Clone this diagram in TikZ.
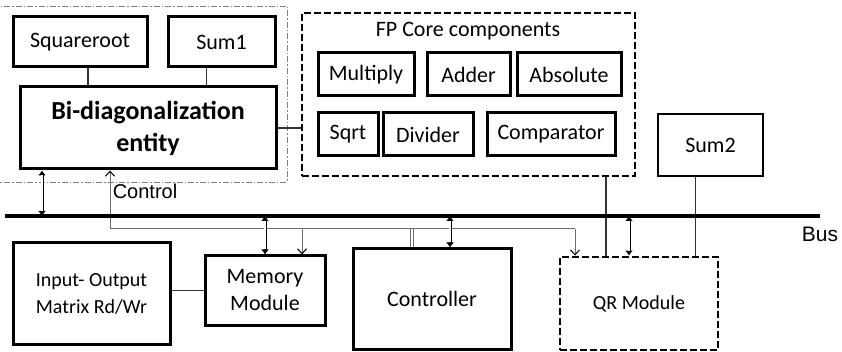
\documentclass[tikz,border=0pt]{standalone}
\usepackage{fontspec}
\setmainfont{Carlito}
\newfontfamily\arialfont{Liberation Sans}
\usetikzlibrary{arrows.meta}
\begin{document}
\begin{tikzpicture}[x=1pt, y=-1pt,
        blk/.style 2 args={draw, line width=3pt, minimum width=#1, minimum height=#2,
            inner sep=0pt, align=center, font=\fontsize{22}{27}\selectfont},
        dbox/.style={draw, line width=2.8pt, dash pattern=on 7pt off 3pt},
        data/.style={line width=3pt, {Latex[length=5pt,width=8pt]}-{Latex[length=5pt,width=8pt]},
            postaction={draw, white, line width=1.2pt, arrows=-, shorten <=5pt, shorten >=5pt}},
        ctrl/.style={gray!85!black, line width=1pt},
        ctip/.style={-{Straight Barb[length=5pt,width=9pt,color=black]}},
        link/.style={line width=1.2pt, black!80}]
        \useasboundingbox (0,0) rectangle (842,352);
        % Umrandung
        \draw[gray, line width=0.9pt, dash pattern=on 6pt off 2pt on 1.5pt off 2pt]
            (-4,6) rectangle (287,182);
        % Bi-Diagonalisierung
        \node[blk={134pt}{50pt}] (sqroot) at (80,42) {Squareroot};
        \node[blk={107pt}{50pt}] (sumone) at (221.5,42) {Sum1};
        \node[blk={256pt}{82pt}, font=\fontsize{26}{32}\selectfont\bfseries]
            (bidiag) at (148,128) {Bi-diagonalization\\entity};
        \draw[link] ([xshift=8pt]sqroot.south) -- ([xshift=8pt]sqroot.south |- bidiag.north);
        \draw[link] ([xshift=-15pt]sumone.south) -- ([xshift=-15pt]sumone.south |- bidiag.north);
        % FP Kern
        \node[dbox, minimum width=333pt, minimum height=163pt] (fpcore) at (468.5,94.5) {};
        \node[font=\fontsize{22}{27}\selectfont] (fptitle) at (468,31) {FP Core components};
        \node[blk={96pt}{43pt}]  (multiply)   at (366,74.5)  {Multiply};
        \node[blk={83pt}{43pt}]  (adder)      at (468.5,74.5) {Adder};
        \node[blk={104pt}{43pt}] (absolute)   at (569,74.5)  {Absolute};
        \node[blk={60pt}{43pt}]  (sqrt)       at (348,134.5) {Sqrt};
        \node[blk={90pt}{43pt}]  (divider)    at (428,134.5) {Divider};
        \node[blk={128pt}{43pt}] (comparator) at (551,134.5) {Comparator};
        \draw[link] (bidiag.east) -- (bidiag.east -| fpcore.west);
        % untere Module
        \node[blk={157pt}{101pt}, font=\fontsize{20}{27}\selectfont]
            (io) at (91.5,293.5) {Input- Output\\Matrix Rd/Wr};
        \node[blk={120pt}{69pt}] (memory) at (265,290.5) {Memory\\Module};
        \node[blk={158pt}{100pt}] (controller) at (432,299) {Controller};
        \node[blk={158pt}{93pt}, dbox, font=\fontsize{20}{27}\selectfont]
            (qr) at (639,303.5) {QR Module};
        \node[blk={105pt}{62pt}, line width=2.2pt] (sumtwo) at (710.5,145) {Sum2};
        \draw[link] (io.east |- memory.west) -- (memory.west);
        \coordinate (fq) at (606,0);
        \draw[link] (fpcore.south -| fq) -- (qr.north -| fq);
        \draw[link] ([xshift=-15pt]sumtwo.south) -- ([xshift=-15pt]sumtwo.south |- qr.north);
        % Steuerleitung
        \coordinate (cA) at (110,229);
        \coordinate (cM) at (302,229);
        \coordinate (cK) at (412,229);
        \coordinate (cQ) at (575,229);
        \draw[ctrl, ctip] (cA) -- (bidiag.south -| cA);
        \draw[ctrl] (cA) -- (cQ);
        \draw[ctrl, ctip] (cM) -- (memory.north -| cM);
        \draw[ctrl, ctip] (cQ) -- (qr.north -| cQ);
        \draw[ctrl, double, double distance=2pt, line width=0.7pt] (controller.north -| cK) -- (cK);
        \node[font=\arialfont\fontsize{20}{24}\selectfont] (ctrllbl) at (145,191) {Control};
        % Bus
        \coordinate (busL) at (5,216);
        \coordinate (busR) at (820,216);
        \draw[line width=3.2pt] (busL) -- (busR);
        \node[font=\arialfont\fontsize{21}{24}\selectfont] (buslbl) at (820,234) {Bus};
        \coordinate (bA) at (42,216);
        \coordinate (bB) at (265,216);
        \coordinate (bC) at (450,216);
        \coordinate (bD) at (629,216);
        \draw[data] (bidiag.south -| bA) -- (bA);
        \draw[data] (memory.north -| bB) -- (bB);
        \draw[data] (controller.north -| bC) -- (bC);
        \draw[data] (qr.north -| bD) -- (bD);
\end{tikzpicture}
\end{document}
